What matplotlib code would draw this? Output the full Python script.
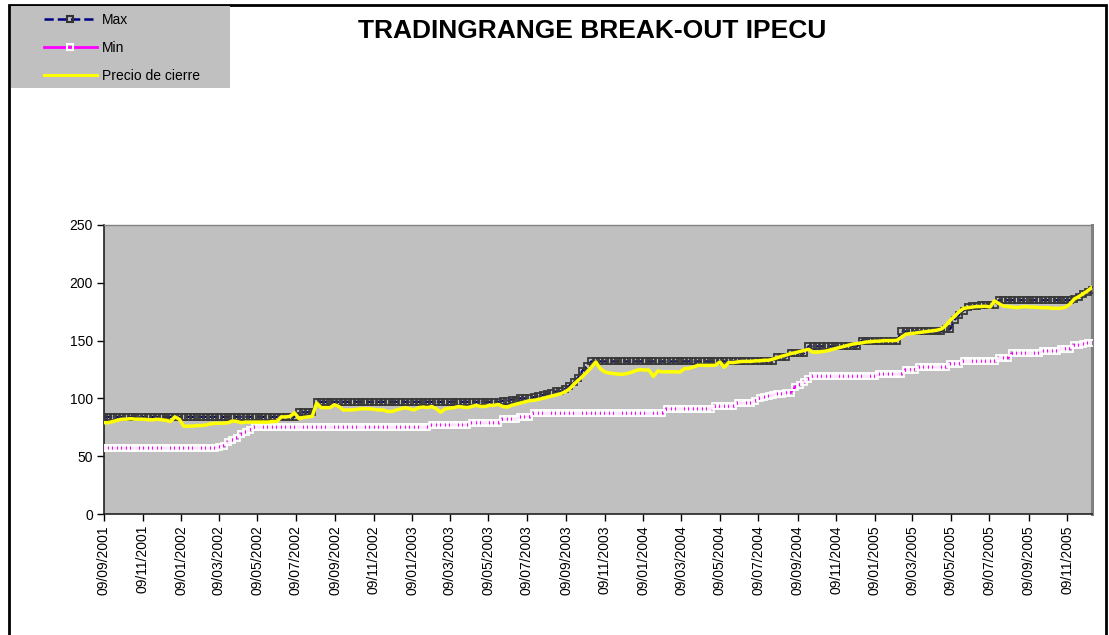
import numpy as np
import pandas as pd
import matplotlib
matplotlib.use("Agg")
import matplotlib.pyplot as plt
import matplotlib.dates as mdates
from matplotlib.patches import Rectangle
from matplotlib.lines import Line2D

plt.rcParams['font.family'] = ['Liberation Sans', 'DejaVu Sans']

# weekly data, starting 09/09/2001
dates = pd.date_range("2001-09-09", periods=224, freq="7D")

max_vals = (
    [84] * 44 + [88] * 4 + [97] * 42 +
    [98, 98, 99, 99, 100, 100, 100, 101, 102, 103, 104, 105, 106, 106, 108,
     111, 114, 118, 124, 128, 132] +
    [132] * 41 +
    [136, 136, 136, 139, 139, 139, 139] +
    [145] * 12 + [150] * 9 + [158] * 10 + [160, 160] +
    [168, 172, 176] + [179, 180, 180, 181, 181, 181, 181] +
    [185] * 17 + [186, 188, 190, 192, 194]
)

min_vals = (
    [57] * 26 +
    [58, 59, 62, 64, 66, 69, 71, 73] +
    [75] * 40 + [77] * 9 + [79] * 7 + [82] * 4 + [84] * 3 +
    [87] * 30 + [91] * 11 + [93] * 5 + [96] * 4 +
    [98, 100, 101, 102, 103, 104, 104, 105, 105] +
    [110, 112, 114, 117] +
    [119] * 15 + [121] * 6 + [125] * 3 + [127] * 7 + [130] * 3 +
    [132] * 8 + [135] * 3 + [139] * 7 + [141] * 4 + [143] * 3 +
    [146, 146, 147, 148, 148]
)

close_vals = [
    79, 79, 80, 81, 82, 82, 82.5, 82, 82, 82,
    81.5, 81.5, 82, 81.5, 81, 80, 84, 82, 76, 76,
    76, 76.5, 76.5, 77, 78, 78.5, 78.5, 78.5, 79, 80.5,
    80, 79, 79.5, 79.5, 79.5, 79.5, 79.5, 79.5, 80, 80,
    84, 84, 84.5, 87.5, 82.5, 83.5, 84, 84.5, 96, 92,
    92, 92, 94.5, 93, 90, 90, 90, 90.5, 91, 91,
    91, 90.5, 90, 90, 88.7, 88.7, 90, 91, 92, 91,
    90, 92, 92.5, 92, 93, 91, 88, 91, 91.5, 92,
    93, 92.5, 92, 93, 94, 93, 93, 94, 94, 94.8,
    93, 92.5, 94, 95, 96, 97, 98, 98.3, 99, 100,
    101, 102, 103, 104, 105.5, 108, 112, 115.6, 119, 122.8,
    127, 131.5, 125.7, 123, 122, 121.5, 121, 120.8, 121.5, 122.5,
    124, 124.9, 124.5, 124.5, 119, 123.7, 123, 123, 123, 123,
    122.8, 125.7, 126, 127, 128.6, 128.6, 128.5, 128.6, 128.6, 131.5,
    127, 131, 131, 131.5, 132, 132, 132, 132.5, 132.5, 133,
    133, 134, 135.3, 136.5, 137.5, 138.8, 139.5, 140.5, 141.5, 142.5,
    140, 140, 140.5, 141, 142, 143, 144, 145, 146, 147,
    147.5, 148, 148.8, 149, 149.5, 149.5, 150, 150, 150, 150.3,
    153, 155.5, 156, 156.5, 157, 157.5, 158, 158.5, 159, 160,
    163, 167.6, 171, 175, 177.8, 178.5, 179, 179.5, 179.5, 179.8,
    179, 184.4, 182, 179.8, 179.5, 179, 178.5, 179, 179.5, 179,
    179, 178.5, 178.5, 178.5, 178, 178, 178, 179, 181.5, 186,
    188, 190.5, 193, 196,
]

tick_dates = pd.date_range("2001-09-01", "2005-11-01", freq="2MS") + pd.Timedelta(days=8)
series_labels = ["Max", "Min", "Precio de cierre"]

W, H = 1109, 635
fig = plt.figure(figsize=(W / 100, H / 100), dpi=100)
fig.patch.set_facecolor("white")

ax = fig.add_axes([104 / W, 1 - 514 / H, 988 / W, 289 / H])
ax.set_facecolor("#C0C0C0")

ax.plot(dates, max_vals, color="#000080", ls="--", lw=1.6, marker="s", ms=5,
        mfc="none", mec="#383838", mew=1.3, zorder=3)
ax.plot(dates, min_vals, color="#FF00FF", ls="-", lw=1.8, marker="s", ms=5,
        mfc="none", mec="white", mew=1.3, zorder=3)
ax.plot(dates, close_vals, color="#FFFF00", lw=2.5, zorder=4)

ax.set_xlim(dates[0], dates[-1])
ax.set_ylim(0, 250)
ax.set_yticks(range(0, 251, 50))
ax.set_xticks(tick_dates)
ax.xaxis.set_major_formatter(mdates.DateFormatter("%d/%m/%Y"))
ax.tick_params(axis="x", rotation=90, labelsize=10, length=5, width=1, pad=3)
ax.tick_params(axis="y", labelsize=10, length=5, width=1, pad=3)

for s in ["left", "bottom"]:
    ax.spines[s].set_color("#222222")
    ax.spines[s].set_linewidth(1.2)
ax.spines["top"].set_color("#808080")
ax.spines["top"].set_linewidth(1)
ax.spines["right"].set_color("#808080")
ax.spines["right"].set_linewidth(2.2)

fig.text(592 / W, 1 - 31 / H, "TRADINGRANGE BREAK-OUT IPECU", ha="center",
         va="center", fontsize=19, fontweight="bold")

# outer frame and legend box
fig.add_artist(Rectangle((9 / W, -0.01), 1097 / W, 1 - 5 / H + 0.01,
                         transform=fig.transFigure, fill=False,
                         edgecolor="black", lw=2))
fig.add_artist(Rectangle((11 / W, 1 - 88 / H), 219 / W, 82 / H,
                         transform=fig.transFigure, facecolor="#C0C0C0",
                         edgecolor="none", zorder=1))

handles = [
    Line2D([], [], color="#000080", ls="--", lw=1.8, marker="s", ms=5,
           mfc="none", mec="#333333", mew=1.5),
    Line2D([], [], color="#FF00FF", lw=2, marker="s", ms=5,
           mfc="none", mec="white", mew=1.5),
    Line2D([], [], color="#FFFF00", lw=2.2),
]
leg = fig.legend(handles, series_labels, loc="upper left",
                 bbox_to_anchor=(44 / W, 1 - 13 / H), frameon=False,
                 fontsize=10, handlelength=3.8, handletextpad=0.35,
                 labelspacing=1.0, borderpad=0, borderaxespad=0, numpoints=1)
leg.set_zorder(5)

fig.savefig("out.png", dpi=100)
